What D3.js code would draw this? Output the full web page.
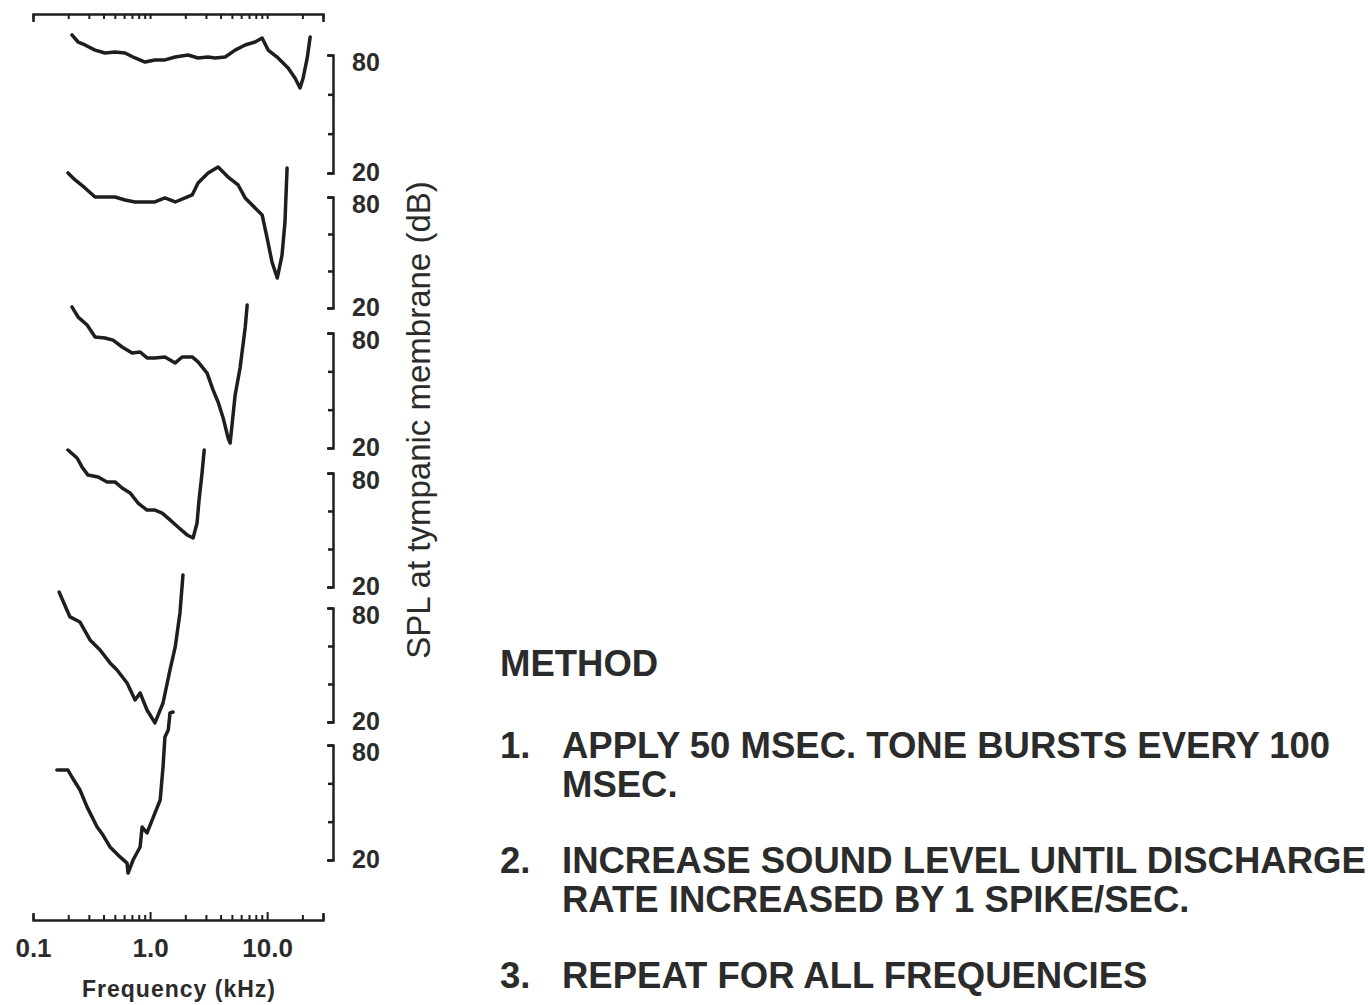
<!DOCTYPE html>
<html>
<head>
<meta charset="utf-8">
<script src="https://cdn.jsdelivr.net/npm/d3@7"></script>
<style>
  body { margin: 0; background: #fff; }
  text { font-family: "Liberation Sans", Arial, sans-serif; fill: #2b2b2b; }
</style>
</head>
<body>
<svg id="chart" width="1368" height="1005"></svg>
<script>
// tuning curves: [frequency kHz, SPL dB], units top to bottom
const unit1 = [[0.215, 90.2], [0.243, 86.6], [0.278, 85.1], [0.339, 82.5], [0.412, 81.0], [0.502, 81.5],
  [0.611, 81.0], [0.744, 78.5], [0.906, 76.4], [1.10, 77.5], [1.34, 77.5], [1.64, 79.0], [2.11, 80.0],
  [2.57, 78.5], [3.13, 79.0], [3.60, 78.5], [4.38, 79.0], [5.33, 82.5], [6.49, 85.1], [7.89, 86.6],
  [9.06, 88.6], [10.2, 82.5], [12.4, 78.5], [15.1, 73.4], [17.3, 68.3], [19.1, 63.2], [20.3, 68.3],
  [22.0, 78.5], [23.3, 89.2]];
const unit2 = [[0.199, 93.0], [0.229, 89.2], [0.278, 84.9], [0.339, 80.0], [0.412, 80.0], [0.502, 80.0],
  [0.611, 78.4], [0.744, 77.3], [0.906, 77.3], [1.10, 77.3], [1.34, 79.5], [1.64, 77.3], [1.99, 79.5],
  [2.29, 81.1], [2.57, 87.6], [3.13, 93.0], [3.81, 96.2], [4.64, 90.8], [5.65, 86.5], [6.49, 79.5],
  [7.89, 74.1], [9.06, 70.3], [10.0, 57.8], [11.0, 44.9], [12.2, 36.2], [13.4, 48.6], [14.2, 66.5],
  [14.8, 95.7]];
const unit3 = [[0.215, 93.6], [0.243, 88.3], [0.290, 84.2], [0.339, 77.9], [0.412, 77.4], [0.483, 76.3],
  [0.577, 72.7], [0.702, 69.6], [0.822, 70.1], [0.942, 67.0], [1.10, 67.0], [1.34, 67.5], [1.64, 64.4],
  [1.88, 67.5], [2.29, 67.5], [2.57, 64.9], [3.07, 59.1], [3.45, 50.3], [3.81, 44.0], [4.21, 35.7],
  [4.64, 25.2], [4.83, 22.6], [5.33, 47.7], [5.87, 61.7], [6.49, 82.6], [6.75, 94.6]];
const unit4 = [[0.199, 92.1], [0.238, 87.9], [0.262, 83.2], [0.295, 78.9], [0.360, 77.9], [0.429, 75.3],
  [0.502, 75.3], [0.577, 72.1], [0.675, 69.5], [0.789, 64.2], [0.942, 60.5], [1.10, 60.5], [1.27, 58.9],
  [1.48, 55.3], [1.73, 51.6], [2.07, 47.4], [2.33, 45.8], [2.52, 53.7], [2.62, 65.8], [2.78, 80.0],
  [2.90, 92.1]];
const unit5 = [[0.167, 88.4], [0.207, 75.3], [0.252, 72.6], [0.307, 63.2], [0.374, 57.9], [0.455, 51.1],
  [0.522, 47.4], [0.636, 40.5], [0.745, 31.6], [0.822, 35.3], [0.942, 26.3], [1.10, 19.5], [1.29, 30.0],
  [1.48, 47.4], [1.64, 59.5], [1.80, 77.4], [1.91, 97.4]];
const unit6 = [[0.160, 66.9], [0.199, 66.9], [0.215, 63.3], [0.252, 56.5], [0.290, 47.6], [0.353, 37.2],
  [0.396, 33.0], [0.455, 26.8], [0.554, 21.6], [0.636, 18.4], [0.649, 13.2], [0.716, 20.0], [0.822, 26.8],
  [0.855, 37.2], [0.942, 34.1], [1.10, 44.5], [1.22, 51.3], [1.29, 68.5], [1.34, 84.2], [1.43, 87.8],
  [1.48, 96.7], [1.57, 97.2]];
const units = [unit1, unit2, unit3, unit4, unit5, unit6];

const levelTicks = [20, 40, 60, 80];
const levelLabels = [20, 80];
const freqTicks = [0.1, 0.2, 0.3, 0.4, 0.5, 0.6, 0.7, 0.8, 0.9, 1, 2, 3, 4, 5, 6, 7, 8, 9, 10, 20, 30];
const freqLabelValues = [0.1, 1, 10];
const freqLabelText = ['0.1', '1.0', '10.0'];
const freqTitle = 'Frequency (kHz)';
const levelTitle = 'SPL at tympanic membrane (dB)';
const methodTitle = 'METHOD';
const methodNumbers = ['1.', '2.', '3.'];
const methodLines = [
  ['APPLY 50 MSEC. TONE BURSTS EVERY 100', 'MSEC.'],
  ['INCREASE SOUND LEVEL UNTIL DISCHARGE', 'RATE INCREASED BY 1 SPIKE/SEC.'],
  ['REPEAT FOR ALL FREQUENCIES']
];

const svg = d3.select('#chart');
const ink = '#1e1e1e';

// shared log frequency scale
const x = d3.scaleLog().domain([0.1, 30]).range([33, 323]);

// each unit gets its own 20-80 dB bracket on the right
const panelTop = [55, 197, 333, 473, 608, 745];
const panelBottom = [173, 308, 448, 587, 722, 860];
const bracketX = 333;

units.forEach((u, i) => {
  let y = d3.scaleLinear().domain([20, 80]).range([panelBottom[i], panelTop[i]]);
  let line = d3.line()
    .x(d => x(d[0]))
    .y(d => y(d[1]));

  svg.append('path')
    .datum(u)
    .attr('d', line)
    .attr('fill', 'none')
    .attr('stroke', ink)
    .attr('stroke-width', 3.5)
    .attr('stroke-linejoin', 'round')
    .attr('stroke-linecap', 'round');

  let yAxis = d3.axisRight(y)
    .tickValues(levelTicks)
    .tickSizeInner(-5)
    .tickSizeOuter(-6)
    .tickPadding(19)
    .tickFormat(d => levelLabels.includes(d) ? d : '');
  let g = svg.append('g')
    .attr('transform', `translate(${bracketX},0)`)
    .call(yAxis);
  g.select('.domain').attr('stroke', ink).attr('stroke-width', 2.5);
  g.selectAll('.tick line').attr('stroke', ink).attr('stroke-width', 2.5);
  g.selectAll('.tick text')
    .attr('dy', d => d === 80 ? '0.62em' : '0.3em')
    .style('font-size', '25px')
    .style('font-weight', 'bold')
    .attr('fill', '#2b2b2b');
});

// bottom frequency axis, ticks pointing up
let bottomAxis = d3.axisBottom(x)
  .tickValues(freqTicks)
  .tickSizeInner(-5)
  .tickSizeOuter(-7)
  .tickPadding(19)
  .tickFormat(d => {
    let k = freqLabelValues.indexOf(d);
    return k >= 0 ? freqLabelText[k] : '';
  });
let bottomG = svg.append('g')
  .attr('transform', 'translate(0,920)')
  .call(bottomAxis);
bottomG.select('.domain').attr('stroke', ink).attr('stroke-width', 2.5);
bottomG.selectAll('.tick line').attr('stroke', ink).attr('stroke-width', 2)
  .attr('y2', d => (d === 1 || d === 10) ? -8 : -5);
bottomG.selectAll('.tick text')
  .style('font-size', '26px')
  .style('font-weight', 'bold')
  .attr('fill', '#2b2b2b');

svg.append('text')
  .attr('x', 179)
  .attr('y', 997)
  .attr('text-anchor', 'middle')
  .style('font-size', '23px')
  .style('font-weight', 'bold')
  .style('letter-spacing', '1px')
  .text(freqTitle);

// top frequency axis, ticks hanging down, no labels
let topAxis = d3.axisTop(x)
  .tickValues(freqTicks)
  .tickSizeInner(-5)
  .tickSizeOuter(-8)
  .tickFormat('');
let topG = svg.append('g')
  .attr('transform', 'translate(0,14)')
  .call(topAxis);
topG.select('.domain').attr('stroke', ink).attr('stroke-width', 2.5);
topG.selectAll('.tick line').attr('stroke', ink).attr('stroke-width', 2);

// rotated level title
svg.append('text')
  .attr('transform', 'translate(430,420) rotate(-90)')
  .attr('text-anchor', 'middle')
  .style('font-size', '33px')
  .text(levelTitle);

// method notes
const notes = svg.append('g').style('font-size', '36.5px').style('font-weight', 'bold');
notes.append('text').attr('x', 500).attr('y', 676).text(methodTitle);
const stepBaselines = [758, 873, 988];
methodNumbers.forEach((n, i) => {
  notes.append('text').attr('x', 500).attr('y', stepBaselines[i]).text(n);
  methodLines[i].forEach((t, j) => {
    notes.append('text')
      .attr('x', 562)
      .attr('y', stepBaselines[i] + j * 39)
      .text(t);
  });
});
</script>
</body>
</html>
